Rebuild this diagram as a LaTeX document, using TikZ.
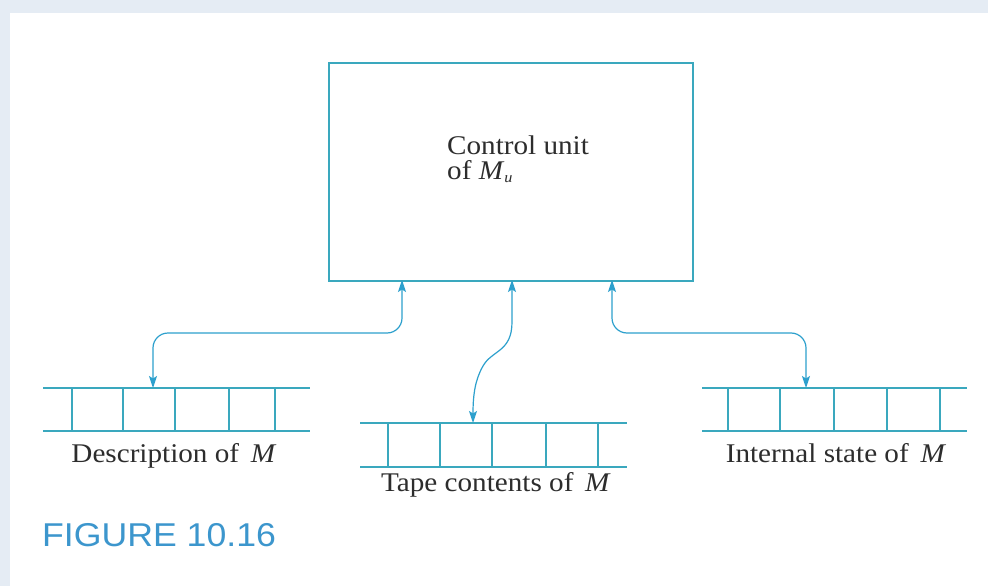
\documentclass[tikz,border=0pt]{standalone}
\usepackage{fontspec}
\setmainfont{Liberation Serif}[FakeStretch=1.08]
\newfontfamily\figfont{Liberation Sans}[FakeStretch=1.08]
\usetikzlibrary{arrows.meta}
\definecolor{framebg}{RGB}{229,236,244}
\definecolor{tapecol}{RGB}{58,168,190}
\definecolor{arrowcol}{RGB}{45,160,205}
\definecolor{figcol}{RGB}{60,150,205}
\definecolor{txtcol}{RGB}{45,45,45}
\tikzset{
  boxline/.style={draw=tapecol, line width=1.8pt},
  tapeline/.style={draw=tapecol, line width=1.6pt},
  conn/.style={draw=arrowcol, line width=1.2pt, rounded corners=15pt,
    {Stealth[length=12pt,width=8pt,inset=2.5pt]}-{Stealth[length=12pt,width=8pt,inset=2.5pt]}},
  lbl/.style={text=txtcol, font=\fontsize{27}{31}\selectfont, inner sep=0pt, anchor=base},
}
\newcommand{\tape}[5]{% left x, right x, top y, bottom y, list of verticals
  \draw[tapeline] (#1,#3) -- (#2,#3);
  \draw[tapeline] (#1,#4) -- (#2,#4);
  \foreach \vx in {#5} { \draw[tapeline] (\vx,#3) -- (\vx,#4); }
}
\begin{document}
\begin{tikzpicture}[x=1pt,y=-1pt]
\useasboundingbox (0,0) rectangle (988,586);
\fill[white] (0,0) rectangle (988,586);
\fill[framebg] (0,0) rectangle (988,13);
\fill[framebg] (0,0) rectangle (10,586);

% control unit
\node[boxline, minimum width=364pt, minimum height=218pt, inner sep=0pt, anchor=north west] (cu) at (328,62) {};
\node[lbl, anchor=base west, align=left] (cutxt) at (447,154) {Control unit};
\node[lbl, anchor=base west] (cutxt2) at (447,179) {of \textit{M}\raisebox{-0.3ex}{\fontsize{15}{15}\selectfont\textit{u}}};

% tapes
\tape{43}{310}{388}{431}{72,123,175,229,275}
\tape{360}{627}{423}{467}{388,440,492,546,598}
\tape{702}{967}{388}{431}{728,780,834,887,940}

\coordinate (dtop) at (153,388);
\coordinate (ttop) at (473,423);
\coordinate (itop) at (806,388);
\coordinate (cuA) at (402,280);
\coordinate (cuB) at (512,280);
\coordinate (cuC) at (612,280);

% labels
\node[lbl] (dlbl) at (174,462) {Description of \,\textit{M}};
\node[lbl] (tlbl) at (496,491) {Tape contents of \,\textit{M}};
\node[lbl] (ilbl) at (836,462) {Internal state of \,\textit{M}};

% connectors
\draw[conn] (cuA) -- (402,333) -- (153,333) -- (dtop);
\draw[conn] (cuC) -- (612,333) -- (806,333) -- (itop);
\draw[conn, rounded corners=0pt] (cuB) -- (512,322) .. controls (512,352) and (492,350) .. (483,366) .. controls (475,380) and (473,395) .. (ttop);

% caption
\node[text=figcol, font=\figfont\fontsize{33}{37}\selectfont, inner sep=0pt, anchor=base west] (cap) at (42,546) {FIGURE 10.16};
\end{tikzpicture}
\end{document}
